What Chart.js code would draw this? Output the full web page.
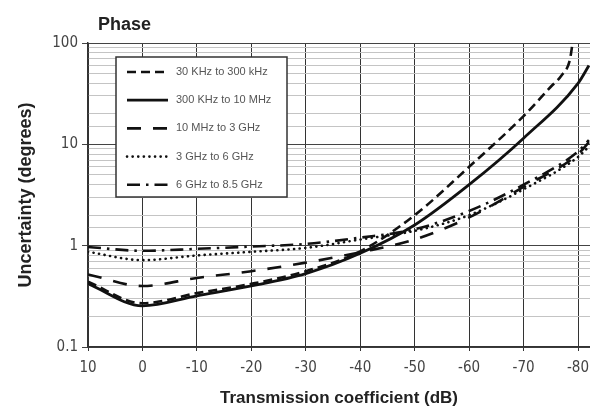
<!DOCTYPE html>
<html>
<head>
<meta charset="utf-8">
<script src="https://cdn.jsdelivr.net/npm/chart.js@4.4.1/dist/chart.umd.min.js"></script>
<style>
html, body { margin: 0; padding: 0; background: #fff; }
</style>
</head>
<body>
<canvas id="phaseChart" width="590" height="412"></canvas>
<script>
// values
const bandLabels = ['30 KHz to 300 kHz', '300 KHz to 10 MHz', '10 MHz to 3 GHz', '3 GHz to 6 GHz', '6 GHz to 8.5 GHz'];

// transmission coefficient (dB) sample points
const dbPoints = [10, 0, -10, -20, -30, -40, -50, -60, -70, -80, -82];
const dbPointsBand1 = [10, 0, -10, -20, -30, -40, -50, -60, -70, -75, -77, -78.5, -79];

// uncertainty (degrees)
const band1 = [0.44, 0.27, 0.34, 0.42, 0.56, 0.88, 2.0, 6.0, 19, 37, 48, 68, 100];
const band2 = [0.42, 0.255, 0.32, 0.40, 0.53, 0.84, 1.6, 4.0, 11.5, 40, 60];
const band3 = [0.52, 0.40, 0.48, 0.56, 0.68, 0.86, 1.15, 1.9, 3.8, 8.0, 10.5];
const band4 = [0.87, 0.72, 0.80, 0.87, 0.95, 1.15, 1.4, 2.0, 3.6, 7.5, 9.5];
const band5 = [0.97, 0.89, 0.93, 0.98, 1.04, 1.2, 1.45, 2.2, 4.0, 8.5, 11];

// tick labels
const xTicks = [10, 0, -10, -20, -30, -40, -50, -60, -70, -80];
const yLabels = ['0.1', '1', '10', '100'];

const toPoints = (xs, ys) => xs.map((x, i) => ({ x: x, y: ys[i] }));

function isDecade(v) {
    const l = Math.log10(v);
    return Math.abs(l - Math.round(l)) < 1e-6;
}

function lineStyle(dash, width, cap) {
    return {
        borderColor: '#111',
        borderWidth: width,
        borderDash: dash,
        borderCapStyle: cap || 'butt',
        pointRadius: 0,
        fill: false,
        cubicInterpolationMode: 'monotone'
    };
}

// legend box inside the plot + "Phase" heading
const phaseDecor = {
    id: 'phaseDecor',
    afterDatasetsDraw(chart) {
        const ctx = chart.ctx;
        ctx.save();
        ctx.setLineDash([]);
        ctx.fillStyle = '#fff';
        ctx.strokeStyle = '#333';
        ctx.lineWidth = 1.5;
        ctx.fillRect(116, 57, 171, 140);
        ctx.strokeRect(116, 57, 171, 140);

        chart.data.datasets.forEach((ds, i) => {
            const y = 72 + i * 28.2;
            ctx.strokeStyle = ds.borderColor;
            ctx.lineWidth = ds.borderWidth;
            ctx.lineCap = ds.borderCapStyle;
            ctx.setLineDash(ds.borderDash);
            ctx.beginPath();
            ctx.moveTo(127, y);
            ctx.lineTo(168, y);
            ctx.stroke();
            ctx.setLineDash([]);
            ctx.fillStyle = '#555';
            ctx.font = '11px "Liberation Sans", Arial, sans-serif';
            ctx.textBaseline = 'middle';
            ctx.fillText(ds.label, 176, y);
        });

        ctx.fillStyle = '#222';
        ctx.font = 'bold 18px "Liberation Sans", Arial, sans-serif';
        ctx.textBaseline = 'middle';
        ctx.fillText('Phase', 98, 25);
        ctx.restore();
    }
};

new Chart(document.getElementById('phaseChart'), {
    type: 'line',
    data: {
        datasets: [
            Object.assign({ label: bandLabels[0], data: toPoints(dbPointsBand1, band1) }, lineStyle([9, 5], 2.6)),
            Object.assign({ label: bandLabels[1], data: toPoints(dbPoints, band2) }, lineStyle([], 2.8)),
            Object.assign({ label: bandLabels[2], data: toPoints(dbPoints, band3) }, lineStyle([14, 12], 2.6)),
            Object.assign({ label: bandLabels[3], data: toPoints(dbPoints, band4) }, lineStyle([0.1, 5.5], 2.6, 'round')),
            Object.assign({ label: bandLabels[4], data: toPoints(dbPoints, band5) }, lineStyle([13, 6, 2.5, 6], 2.6))
        ]
    },
    options: {
        responsive: false,
        animation: false,
        layout: { padding: { top: 43, left: 0, right: 0, bottom: 0 } },
        plugins: {
            legend: { display: false },
            tooltip: { enabled: false }
        },
        scales: {
            x: {
                type: 'linear',
                reverse: true,
                min: -82.2,
                max: 10,
                afterBuildTicks: axis => { axis.ticks = xTicks.map(v => ({ value: v })); },
                afterFit: scale => {
                    scale.height = 65;
                    scale.paddingLeft = 0;
                    scale.paddingRight = 0;
                },
                ticks: {
                    autoSkip: false,
                    maxRotation: 0,
                    padding: 8,
                    color: '#444',
                    font: { family: '"Liberation Sans Narrow", "DejaVu Sans Condensed", sans-serif', size: 15 }
                },
                grid: { color: '#333', lineWidth: 1, tickLength: 4 },
                border: { color: '#333', width: 1.5 },
                title: {
                    display: true,
                    text: 'Transmission coefficient (dB)',
                    color: '#222',
                    font: { family: '"Liberation Sans", Arial, sans-serif', size: 17, weight: 'bold' },
                    padding: { top: 0, bottom: 3 }
                }
            },
            y: {
                type: 'logarithmic',
                min: 0.1,
                max: 100,
                afterFit: scale => { scale.width = 88; },
                ticks: {
                    autoSkip: false,
                    padding: 4,
                    color: '#444',
                    font: { family: '"Liberation Sans Narrow", "DejaVu Sans Condensed", sans-serif', size: 15 },
                    callback: v => isDecade(v) ? yLabels[Math.round(Math.log10(v)) + 1] : ''
                },
                grid: {
                    tickLength: 6,
                    color: c => (c.tick && isDecade(c.tick.value)) ? '#444' : '#c4c4c4',
                    tickColor: c => (c.tick && isDecade(c.tick.value)) ? '#444' : 'rgba(0,0,0,0)',
                    lineWidth: 1
                },
                border: { color: '#333', width: 1.5 },
                title: {
                    display: true,
                    text: 'Uncertainty (degrees)',
                    color: '#222',
                    font: { family: '"Liberation Sans", Arial, sans-serif', size: 18, weight: 'bold' },
                    padding: { top: 15, bottom: 0 }
                }
            }
        }
    },
    plugins: [phaseDecor]
});
</script>
</body>
</html>
